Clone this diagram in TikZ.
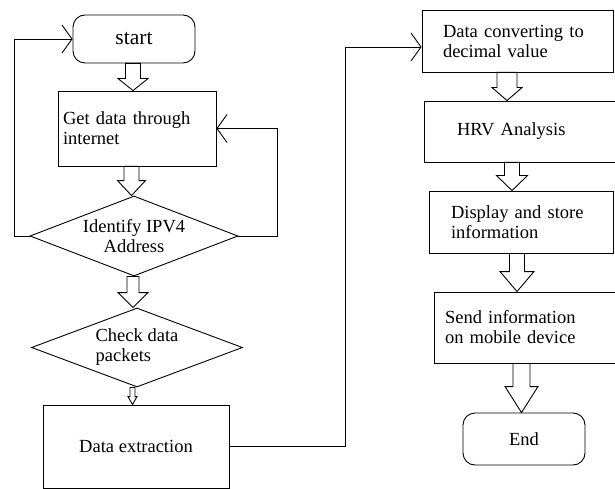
\documentclass[tikz,border=0pt]{standalone}
\usepackage{fontspec}
\setmainfont{Liberation Serif}
\usetikzlibrary{arrows.meta,calc,shapes.geometric}

\tikzset{
  box/.style={draw,rectangle,align=left,inner ysep=0pt},
  term/.style={draw,rectangle,rounded corners=12pt,minimum width=122pt,align=center},
  decision/.style={draw,diamond,inner sep=0pt,aspect=2.6,align=left},
  flow/.style={-{Straight Barb[length=10pt,width=28pt]}},
  fat/.style={draw,fill=white}
}

% hollow block arrow: from, to, x offset, shaft width, head width, head length
\newcommand{\blockarrow}[6]{%
  \draw[fat] let \p1=($(#1.south)+(#3,0)$), \p2=(#2.north) in
    (\x1-#4/2,\y1) -- (\x1-#4/2,\y2+#6) -- (\x1-#5/2,\y2+#6) -- (\x1,\y2)
    -- (\x1+#5/2,\y2+#6) -- (\x1+#4/2,\y2+#6) -- (\x1+#4/2,\y1) -- cycle;}

\begin{document}
\begin{tikzpicture}[x=1pt,y=-1pt,line width=0.9pt,font=\fontsize{18.5}{20}\selectfont]
\useasboundingbox (0,0) rectangle (615,489);

% Nodes
\node[term,font=\fontsize{21.5}{24}\selectfont,minimum height=48pt] (start) at (134,39) {start};
\node[box,minimum height=75pt,text width=148pt,inner xsep=5pt] (getdata) at (137,128.5) {Get data through\\internet};
\node[decision,minimum width=208pt,minimum height=80pt,align=center] (ipv4) at (134,236) {Identify IPV4\\Address};
\node[decision,minimum width=211pt,minimum height=79pt] (packets) at (137,347.5) {Check data\\packets};
\node[box,align=center,minimum width=186pt,minimum height=83pt] (extract) at (136,446.5) {Data extraction};

\node[box,minimum height=62pt,text width=149pt,inner xsep=21pt] (convert) at (517.5,41) {Data converting to\\decimal value};
\node[box,minimum height=61pt,text width=140pt,inner xsep=33pt] (hrv) at (527,131.5) {HRV Analysis};
\node[box,minimum height=62pt,text width=140pt,inner xsep=22pt] (display) at (521,222) {Display and store\\information};
\node[box,minimum height=71pt,text width=174pt,inner xsep=11pt] (send) at (532,327.5) {Send information\\on mobile device};
\node[term,minimum height=52pt] (stop) at (524,439) {End};

% block arrows
\blockarrow{start}{getdata}{-1}{15}{30}{12}
\blockarrow{getdata}{ipv4}{-5.5}{15}{28}{15}
\blockarrow{ipv4}{packets}{-1}{12}{30}{15}
\blockarrow{packets}{extract}{-4.5}{5}{9}{8}
\blockarrow{convert}{hrv}{-10.5}{20}{30}{13}
\blockarrow{hrv}{display}{-15}{15}{31}{15}
\blockarrow{display}{send}{-4}{15}{34}{20}
\blockarrow{send}{stop}{-10.5}{17}{33}{26}

% loops and links
\draw[flow] (ipv4.west) -- ++(-15,0) |- (start.west);
\draw[flow] (ipv4.east) -- ++(39,0) |- (getdata.east);
\draw[flow] (extract.east) -- ++(116,0) |- ([yshift=-6pt]convert.west);
\end{tikzpicture}
\end{document}
